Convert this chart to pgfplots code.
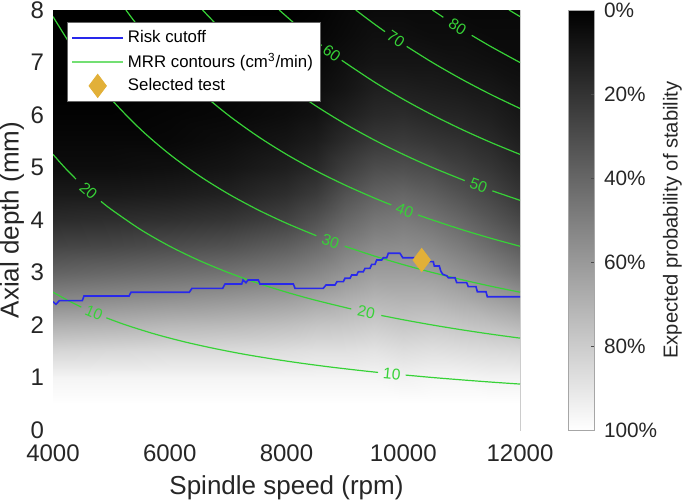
\documentclass[border=0pt]{standalone}
\usepackage{fontspec}
\setmainfont{Liberation Sans}
\usepackage{pgfplots}
\pgfplotsset{compat=1.18}

\definecolor{cgreen}{RGB}{55,210,55}
\definecolor{cblue}{RGB}{40,40,235}
\definecolor{cgold}{RGB}{226,176,56}
\tikzset{
  clab/.style={font=\fontsize{7.8bp}{9bp}\selectfont, text=cgreen, inner sep=0pt},
  cont/.style={cgreen, line width=0.6bp, smooth},
}

\begin{document}
\begin{tikzpicture}
\begin{axis}[
  name=ax, scale only axis, width=233.5bp, height=210bp,
  xmin=4000, xmax=12000, ymin=0, ymax=8,
  xtick={4000,6000,8000,10000,12000}, ytick={0,1,...,8},
  scaled x ticks=false,
  /pgf/number format/assume math mode=true,
  /pgf/number format/1000 sep={},
  major tick length=0pt,
  axis line style={gray!40},
  tick label style={font=\fontsize{12bp}{14bp}\selectfont, text=black!85},
  xticklabel style={yshift=-4bp},
  yticklabel style={xshift=-1bp},
  label style={font=\fontsize{13bp}{15bp}\selectfont, text=black!85},
  xlabel={Spindle speed (rpm)}, ylabel={Axial depth (mm)},
  ylabel style={yshift=-3.5bp},
  colormap={bw}{gray(0cm)=(0); gray(1cm)=(1)},
  point meta min=0, point meta max=1,
  colorbar,
  colorbar style={
    at={(parent axis.north east)}, anchor=north west, xshift=15.5bp,
    scale only axis, width=13bp, height=210bp,
    y dir=reverse,
    ytick={0,0.2,0.4,0.6,0.8,1},
    yticklabels={0\%,20\%,40\%,60\%,80\%,100\%},
    yticklabel pos=right, ytick pos=right,
    yticklabel style={font=\fontsize{10.4bp}{12bp}\selectfont, text=black!85, xshift=1.5bp},
    ylabel={Expected probability of stability},
    ylabel near ticks,
    ylabel style={font=\fontsize{10.1bp}{12bp}\selectfont, text=black!85, yshift=4bp},
    axis line style={gray!70},
    major tick length=1.5bp, tick style={black!70},
  },
  legend style={at={(0,1)}, anchor=north west, xshift=7bp, yshift=-6bp,
    font=\fontsize{8.4bp}{10bp}\selectfont, draw=black!60, fill=white,
    inner xsep=2bp, inner ysep=2bp},
  legend cell align=left,
]

\addlegendimage{legend image code/.code={\draw[cblue, line width=0.8bp] (0bp,0bp) -- (25.5bp,0bp);}}
\addlegendentry{Risk cutoff}
\addlegendimage{legend image code/.code={\draw[cgreen!70, line width=0.6bp] (0bp,0bp) -- (25.5bp,0bp);}}
\addlegendentry{MRR contours (cm\textsuperscript{3}/min)}
\addlegendimage{legend image code/.code={\path (0bp,-2bp) (25.5bp,2bp);
  \pgfinterruptboundingbox
  \draw[cgold, fill=cgold] plot[mark=diamond*, mark size=5.8bp] coordinates {(12.75bp,0bp)};
  \endpgfinterruptboundingbox}}
\addlegendentry{Selected test}

% expected probability of stability (read from the shading)
\addplot[surf, shader=interp, forget plot, point meta=explicit,
  mesh/ordering=y varies, mesh/rows=17, mesh/cols=13]
table[x=n, y=a, meta=p] {
n a p
4000 0 1
4000 0.5 1
4000 1 0.96
4000 1.5 0.84
4000 2 0.69
4000 2.5 0.53
4000 3 0.39
4000 3.5 0.27
4000 4 0.17
4000 4.5 0.10
4000 5 0.05
4000 5.5 0.03
4000 6 0.01
4000 6.5 0
4000 7 0
4000 7.5 0
4000 8 0
5000 0 1
5000 0.5 1
5000 1 0.96
5000 1.5 0.85
5000 2 0.70
5000 2.5 0.55
5000 3 0.41
5000 3.5 0.28
5000 4 0.18
5000 4.5 0.10
5000 5 0.05
5000 5.5 0.03
5000 6 0.01
5000 6.5 0
5000 7 0
5000 7.5 0
5000 8 0
6000 0 1
6000 0.5 1
6000 1 0.96
6000 1.5 0.86
6000 2 0.72
6000 2.5 0.57
6000 3 0.43
6000 3.5 0.30
6000 4 0.19
6000 4.5 0.11
6000 5 0.06
6000 5.5 0.03
6000 6 0.02
6000 6.5 0.01
6000 7 0
6000 7.5 0
6000 8 0
7000 0 1
7000 0.5 1
7000 1 0.96
7000 1.5 0.86
7000 2 0.73
7000 2.5 0.59
7000 3 0.45
7000 3.5 0.32
7000 4 0.21
7000 4.5 0.13
7000 5 0.08
7000 5.5 0.05
7000 6 0.03
7000 6.5 0.02
7000 7 0.01
7000 7.5 0
7000 8 0
8000 0 1
8000 0.5 1
8000 1 0.96
8000 1.5 0.87
8000 2 0.75
8000 2.5 0.62
8000 3 0.49
8000 3.5 0.37
8000 4 0.26
8000 4.5 0.18
8000 5 0.12
8000 5.5 0.08
8000 6 0.05
8000 6.5 0.03
8000 7 0.02
8000 7.5 0.01
8000 8 0
8500 0 1
8500 0.5 1
8500 1 0.96
8500 1.5 0.88
8500 2 0.77
8500 2.5 0.65
8500 3 0.53
8500 3.5 0.42
8500 4 0.32
8500 4.5 0.23
8500 5 0.16
8500 5.5 0.11
8500 6 0.07
8500 6.5 0.05
8500 7 0.03
8500 7.5 0.02
8500 8 0.01
9000 0 1
9000 0.5 1
9000 1 0.96
9000 1.5 0.88
9000 2 0.78
9000 2.5 0.68
9000 3 0.58
9000 3.5 0.49
9000 4 0.40
9000 4.5 0.32
9000 5 0.24
9000 5.5 0.17
9000 6 0.12
9000 6.5 0.08
9000 7 0.06
9000 7.5 0.04
9000 8 0.03
9500 0 1
9500 0.5 1
9500 1 0.96
9500 1.5 0.89
9500 2 0.80
9500 2.5 0.71
9500 3 0.62
9500 3.5 0.54
9500 4 0.46
9500 4.5 0.38
9500 5 0.30
9500 5.5 0.22
9500 6 0.16
9500 6.5 0.12
9500 7 0.08
9500 7.5 0.06
9500 8 0.04
10000 0 1
10000 0.5 1
10000 1 0.95
10000 1.5 0.87
10000 2 0.78
10000 2.5 0.70
10000 3 0.62
10000 3.5 0.55
10000 4 0.48
10000 4.5 0.40
10000 5 0.31
10000 5.5 0.23
10000 6 0.17
10000 6.5 0.12
10000 7 0.08
10000 7.5 0.06
10000 8 0.04
10500 0 1
10500 0.5 1
10500 1 0.96
10500 1.5 0.88
10500 2 0.79
10500 2.5 0.70
10500 3 0.61
10500 3.5 0.53
10500 4 0.45
10500 4.5 0.37
10500 5 0.29
10500 5.5 0.21
10500 6 0.15
10500 6.5 0.11
10500 7 0.08
10500 7.5 0.05
10500 8 0.04
11000 0 1
11000 0.5 1
11000 1 0.96
11000 1.5 0.87
11000 2 0.77
11000 2.5 0.67
11000 3 0.57
11000 3.5 0.48
11000 4 0.40
11000 4.5 0.32
11000 5 0.25
11000 5.5 0.19
11000 6 0.14
11000 6.5 0.10
11000 7 0.07
11000 7.5 0.05
11000 8 0.03
11500 0 1
11500 0.5 1
11500 1 0.95
11500 1.5 0.86
11500 2 0.75
11500 2.5 0.63
11500 3 0.52
11500 3.5 0.42
11500 4 0.34
11500 4.5 0.27
11500 5 0.21
11500 5.5 0.16
11500 6 0.12
11500 6.5 0.09
11500 7 0.06
11500 7.5 0.04
11500 8 0.03
12000 0 1
12000 0.5 1
12000 1 0.95
12000 1.5 0.85
12000 2 0.72
12000 2.5 0.59
12000 3 0.46
12000 3.5 0.36
12000 4 0.28
12000 4.5 0.21
12000 5 0.16
12000 5.5 0.12
12000 6 0.09
12000 6.5 0.07
12000 7 0.05
12000 7.5 0.04
12000 8 0.03
};

% MRR contours, broken where the labels sit
\addplot[cont, forget plot] coordinates {(4000,2.625) (4250,2.471) (4485,2.341)};
\addplot[cont, forget plot] coordinates {(4913,2.137) (5250,2.0) (5750,1.826) (6250,1.68) (6750,1.556) (7250,1.448) (7750,1.355) (8250,1.273) (8750,1.2) (9250,1.135) (9568,1.097)};
\addplot[cont, forget plot] coordinates {(10042,1.046) (10500,1.0) (11000,0.955) (11500,0.913) (12000,0.875)};

\addplot[cont, forget plot] coordinates {(4000,5.25) (4200,5.0) (4394,4.779)};
\addplot[cont, forget plot] coordinates {(4822,4.355) (5000,4.2) (5500,3.818) (6000,3.5) (6500,3.231) (7000,3.0) (7500,2.8) (8000,2.625) (8500,2.471) (9110,2.305)};
\addplot[cont, forget plot] coordinates {(9624,2.182) (10000,2.1) (10500,2.0) (11000,1.909) (11500,1.826) (12000,1.75)};

\addplot[cont, forget plot] coordinates {(4000,7.875) (4500,7.0) (5000,6.3) (5500,5.727) (6000,5.25) (6500,4.846) (7000,4.5) (7500,4.2) (8000,3.938) (8511,3.701)};
\addplot[cont, forget plot] coordinates {(8997,3.501) (9500,3.316) (10000,3.15) (10500,3.0) (11000,2.864) (11500,2.739) (12000,2.625)};

\addplot[cont, forget plot] coordinates {(5250,8.0) (5500,7.636) (6000,7.0) (6500,6.462) (7000,6.0) (7500,5.6) (8000,5.25) (8500,4.941) (9000,4.667) (9500,4.421) (9796,4.287)};
\addplot[cont, forget plot] coordinates {(10253,4.096) (10500,4.0) (11000,3.818) (11500,3.652) (12000,3.5)};

\addplot[cont, forget plot] coordinates {(6562,8.0) (7000,7.5) (7500,7.0) (8000,6.563) (8500,6.176) (9000,5.833) (9500,5.526) (10000,5.25) (10500,5.0) (11053,4.750)};
\addplot[cont, forget plot] coordinates {(11526,4.555) (12000,4.375)};

\addplot[cont, forget plot] coordinates {(7875,8.0) (8250,7.636) (8603,7.323)};
\addplot[cont, forget plot] coordinates {(8946,7.042) (9500,6.632) (10000,6.3) (10500,6.0) (11000,5.727) (11500,5.478) (12000,5.25)};

\addplot[cont, forget plot] coordinates {(9187,8.0) (9450,7.778) (9687,7.588)};
\addplot[cont, forget plot] coordinates {(10059,7.307) (10500,7.0) (11000,6.682) (11500,6.391) (12000,6.125)};

\addplot[cont, forget plot] coordinates {(10500,8.0) (10686,7.861)};
\addplot[cont, forget plot] coordinates {(11173,7.518) (11500,7.304) (12000,7.0)};

\addplot[cont, forget plot] coordinates {(11812,8.0) (12000,7.875)};

\node[clab, rotate=-23.1] at (axis cs:4700,2.234) {10};
\node[clab, rotate=-5.6] at (axis cs:9805,1.071) {10};
\node[clab, rotate=-41.6] at (axis cs:4608,4.557) {20};
\node[clab, rotate=-12.1] at (axis cs:9367,2.242) {20};
\node[clab, rotate=-20.3] at (axis cs:8754,3.598) {30};
\node[clab, rotate=-20.6] at (axis cs:10025,4.190) {40};
\node[clab, rotate=-20.3] at (axis cs:11290,4.650) {50};
\node[clab, rotate=-36.3] at (axis cs:8775,7.179) {60};
\node[clab, rotate=-34.1] at (axis cs:9873,7.444) {70};
\node[clab, rotate=-32.3] at (axis cs:10930,7.685) {80};

% risk cutoff
\addplot[cblue, line width=0.8bp, forget plot] coordinates {
(4000,2.444) (4051,2.394) (4108,2.463) (4502,2.463) (4531,2.552) (5302,2.552)
(5336,2.623) (6335,2.623) (6381,2.699) (6907,2.699) (6947,2.781) (7233,2.781)
(7255,2.857) (7306,2.806) (7341,2.857) (7517,2.857) (7546,2.781) (8117,2.781)
(8146,2.699) (8630,2.699) (8677,2.762) (8831,2.762) (8865,2.825) (8973,2.825)
(9002,2.890) (9088,2.890) (9117,2.952) (9203,2.952) (9230,3.015) (9316,3.015)
(9345,3.080) (9430,3.080) (9460,3.156) (9516,3.156) (9545,3.238) (9631,3.238)
(9658,3.282) (9717,3.282) (9744,3.366) (9944,3.366) (9991,3.282) (10253,3.282)
(10287,3.206) (10515,3.206) (10532,3.124) (10618,3.124) (10642,3.029) (10676,2.966)
(10744,2.939) (10772,2.901) (10887,2.901) (10916,2.806) (11087,2.806) (11114,2.730)
(11246,2.730) (11269,2.634) (11418,2.634) (11440,2.539) (12000,2.539)
};

% selected test
\addplot[only marks, mark=diamond*, mark size=5.8bp, cgold, forget plot] coordinates {(10316,3.238)};

\end{axis}
\pgfresetboundingbox
\path[use as bounding box] ([xshift=-26.5bp,yshift=-37bp]ax.south west) rectangle ++(342.5bp,252bp);
\end{tikzpicture}
\end{document}
